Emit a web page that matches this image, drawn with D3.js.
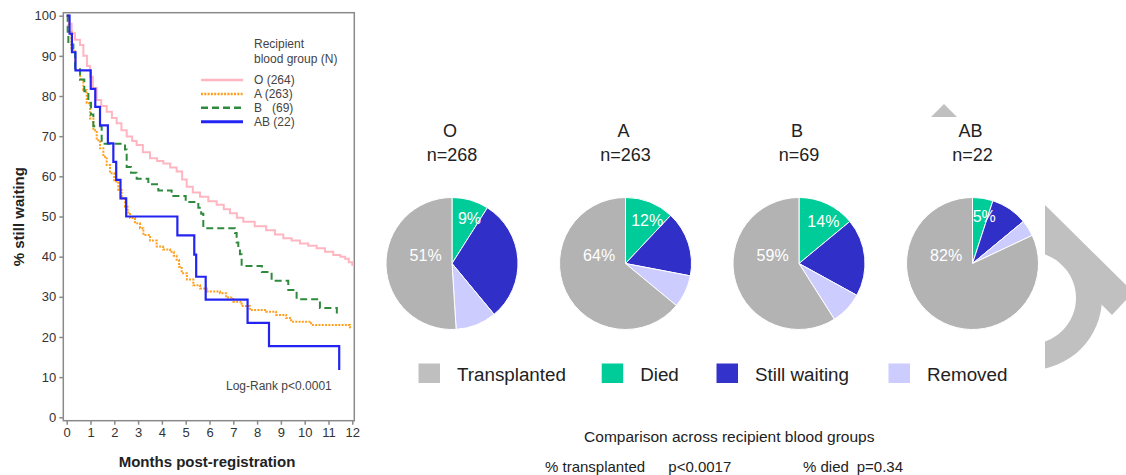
<!DOCTYPE html>
<html>
<head>
<meta charset="utf-8">
<script src="https://cdn.jsdelivr.net/npm/d3@7/dist/d3.min.js"></script>
<style>
  html, body { margin: 0; padding: 0; background: #fff; }
  svg { display: block; font-family: "Liberation Sans", Arial, sans-serif; }
  text { white-space: pre; }
</style>
</head>
<body>
<script>
// ---- Kaplan-Meier: % still waiting by recipient blood group ----
const monthTicks = [0, 1, 2, 3, 4, 5, 6, 7, 8, 9, 10, 11, 12];
const pctTicks = [0, 10, 20, 30, 40, 50, 60, 70, 80, 90, 100];

const kmGroups = ["O", "A", "B", "AB"];
const kmLegend = ["O (264)", "A (263)", "B   (69)", "AB (22)"];

const kmO = [[0,100],[0.1,98],[0.21,95.6],[0.35,94],[0.56,92.7],[0.7,90],[0.85,87.5],[0.98,84.8],
  [1.1,82],[1.26,79],[1.45,77.5],[1.68,76.1],[1.9,74.5],[2.1,73.2],[2.3,71.5],[2.52,69.9],
  [2.75,68.8],[2.94,67.8],[3.2,66],[3.5,64.5],[3.8,63.8],[4.06,63.2],[4.35,62.2],[4.62,61.2],
  [4.85,59.2],[5.04,57.4],[5.3,56],[5.6,54.9],[5.95,53.8],[6.3,52.9],[6.6,51.8],[6.86,50.8],
  [7.15,49.7],[7.42,48.7],[7.9,47.6],[8.38,46.6],[8.75,45.5],[9.1,44.6],[9.45,44],[9.8,43.3],
  [10.15,42.7],[10.5,42.1],[10.85,41.2],[11.2,40.4],[11.5,40],[11.7,39.5],[11.85,38.6],[12,37.7]];

const kmA = [[0,100],[0.08,96],[0.2,91.5],[0.35,86.5],[0.56,84],[0.7,81.5],[0.84,78.2],[0.98,74.4],
  [1.12,71.5],[1.26,69],[1.4,67],[1.54,64.9],[1.68,62.8],[1.82,60.8],[2.0,58.7],[2.17,56.6],
  [2.31,54.5],[2.45,52.4],[2.56,51],[2.66,49.6],[2.87,48.3],[3.08,47.1],[3.22,45.4],[3.5,44],
  [3.78,42.5],[4.05,41.8],[4.34,41.2],[4.5,40.2],[4.62,39.2],[4.72,37.5],[4.83,35.9],[5.05,34.3],
  [5.32,32.9],[5.6,32.1],[5.88,31.3],[6.44,30.9],[6.7,29.8],[7.0,28.8],[7.35,27.7],[7.7,26.7],
  [8.38,26.3],[8.8,25.5],[9.22,24.7],[9.43,23.8],[10.27,23],[11.9,22.4],[12,22.4]];

const kmB = [[0,100],[0.04,96],[0.07,92.8],[0.28,91.3],[0.35,86.9],[0.56,84.1],[0.74,81.2],
  [0.91,78.3],[1.02,75.4],[1.12,72.5],[1.47,68.1],[2.45,66.7],[2.52,62.3],[2.7,60.9],[2.94,59.4],
  [3.43,58],[3.85,56.5],[4.41,55.1],[5.0,53.6],[5.53,52.2],[5.65,50.7],[5.74,47.1],[7.07,45.9],
  [7.14,43.5],[7.21,42],[7.28,40.6],[7.35,37.7],[8.2,36.2],[8.61,34],[9.31,31.7],[9.66,29.4],
  [10.64,27.2],[11.35,25]];

const kmAB = [[0,100],[0.12,95.5],[0.22,90.9],[0.37,86.4],[1.01,81.8],[1.2,77.3],[1.4,72.7],
  [1.73,68.2],[1.96,63.6],[2.08,59.1],[2.26,54.5],[2.5,50],[4.65,45.3],[5.36,40.5],[5.44,35],
  [5.84,29.3],[7.6,23.5],[8.5,17.7],[11.45,11.8]];

// ---- Outcome pies ----
const pieGroups = ["O", "A", "B", "AB"];
const pieN = [268, 263, 69, 22];
const outcomes = ["Transplanted", "Died", "Still waiting", "Removed"];
const pctTransplanted = [51, 64, 59, 82];
const pctDied = [9, 12, 14, 5];
const pctWaiting = [30, 16, 19, 9];
const pctRemoved = [10, 8, 8, 4];

const W = 1126, H = 475;
const svg = d3.select("body").append("svg").attr("width", W).attr("height", H);
svg.append("rect").attr("width", W).attr("height", H).attr("fill", "#fff");

// ---- background arrow ornament (right edge) ----
const deco = svg.append("g").attr("fill", "#c0c0c0");
deco.append("path").attr("d", "M944,104 L931,117 L957,117 Z");
svg.append("clipPath").attr("id", "rightEdge")
  .append("rect").attr("x", 1045).attr("y", 0).attr("width", 100).attr("height", H);
const decoR = deco.append("g").attr("clip-path", "url(#rightEdge)");
decoR.append("path").attr("d", "M1045,205 L1126,285 L1126,300 L1112,315 L1045,248 Z");
decoR.append("path")
  .attr("transform", "translate(1030,298)")
  .attr("d", d3.arc()({innerRadius: 46, outerRadius: 72, startAngle: 0, endAngle: Math.PI}));

// ---- KM panel ----
const x = d3.scaleLinear().domain([0, 12]).range([66.7, 352.3]);
const y = d3.scaleLinear().domain([0, 100]).range([417.3, 15.7]);
const frame = {l: 63.3, t: 12.7, r: 354.3, b: 420.7};

svg.append("rect")
  .attr("x", frame.l).attr("y", frame.t)
  .attr("width", frame.r - frame.l).attr("height", frame.b - frame.t)
  .attr("fill", "none").attr("stroke", "#8a8a8a").attr("stroke-width", 1.5);

const yAxis = svg.append("g").attr("transform", `translate(${frame.l},0)`)
  .call(d3.axisLeft(y).tickValues(pctTicks).tickSize(4).tickPadding(3));
const xAxis = svg.append("g").attr("transform", `translate(0,${frame.b})`)
  .call(d3.axisBottom(x).tickValues(monthTicks).tickSize(4).tickPadding(3));
[xAxis, yAxis].forEach(a => {
  a.select(".domain").remove();
  a.selectAll(".tick line").attr("stroke", "#8a8a8a").attr("stroke-width", 1.5);
  a.selectAll(".tick text").attr("fill", "#333").attr("font-size", 13)
    .attr("font-family", "Liberation Sans, Arial, sans-serif");
});

svg.append("text")
  .attr("transform", "translate(24,216.7) rotate(-90)")
  .attr("text-anchor", "middle").attr("font-weight", "bold").attr("font-size", 15)
  .attr("fill", "#222").text("% still waiting");
svg.append("text")
  .attr("x", 207).attr("y", 467)
  .attr("text-anchor", "middle").attr("font-weight", "bold").attr("font-size", 15)
  .attr("fill", "#222").text("Months post-registration");

const kmStyles = [
  {data: kmO, color: "#ffb6c1", width: 2, dash: null},
  {data: kmA, color: "#ff9f1c", width: 2, dash: "2,1.3"},
  {data: kmB, color: "#2e8b3e", width: 2, dash: "7,4"},
  {data: kmAB, color: "#2424f2", width: 2.2, dash: null}
];
const line = d3.line().curve(d3.curveStepAfter).x(d => x(d[0])).y(d => y(d[1]));
kmStyles.forEach(s => {
  svg.append("path").datum(s.data)
    .attr("d", line).attr("fill", "none")
    .attr("stroke", s.color).attr("stroke-width", s.width)
    .attr("stroke-dasharray", s.dash);
});

// KM legend
const kmLeg = svg.append("g").attr("font-size", 12).attr("fill", "#444");
kmLeg.append("text").attr("x", 254).attr("y", 48).text("Recipient");
kmLeg.append("text").attr("x", 254).attr("y", 63).text("blood group (N)");
kmLegend.forEach((lab, i) => {
  const yy = 80 + i * 13.9;
  const s = kmStyles[i];
  kmLeg.append("line").attr("x1", 201).attr("x2", 243).attr("y1", yy).attr("y2", yy)
    .attr("stroke", s.color).attr("stroke-width", i === 3 ? 3 : 2.5)
    .attr("stroke-dasharray", s.dash);
  kmLeg.append("text").attr("x", 254).attr("y", yy + 4.2).text(lab);
});
svg.append("text").attr("x", 226).attr("y", 390).attr("font-size", 12)
  .attr("fill", "#444").text("Log-Rank p<0.0001");

// ---- pies ----
const pieColors = {"Transplanted": "#b3b3b3", "Died": "#00cc99", "Still waiting": "#3030c8", "Removed": "#ccccff"};
const legendColors = {"Transplanted": "#bfbfbf", "Died": "#00cc99", "Still waiting": "#3333cc", "Removed": "#ccccff"};
const pieX = d3.scalePoint().domain(pieGroups).range([452, 972.5]);
const pieCY = 263.5, pieR = 66;
const pie = d3.pie().sort(null).value(d => d.value);
const arc = d3.arc().innerRadius(0).outerRadius(pieR);

pieGroups.forEach((g, i) => {
  const cx = pieX(g);
  const slices = [
    {key: "Died", value: pctDied[i]},
    {key: "Still waiting", value: pctWaiting[i]},
    {key: "Removed", value: pctRemoved[i]},
    {key: "Transplanted", value: pctTransplanted[i]}
  ];
  const gp = svg.append("g").attr("transform", `translate(${cx},${pieCY})`);
  const arcs = pie(slices);
  gp.selectAll("path").data(arcs).join("path")
    .attr("d", arc).attr("fill", d => pieColors[d.data.key])
    .attr("stroke", "#fff").attr("stroke-width", 1);

  // labels for died and transplanted shares
  const died = arcs[0];
  const mid = (died.startAngle + died.endAngle) / 2 + 0.09;
  const lr = pieR * 0.73;
  gp.append("text")
    .attr("x", Math.sin(mid) * lr).attr("y", -Math.cos(mid) * lr + 5.5)
    .attr("text-anchor", "middle").attr("font-size", 16).attr("fill", "#fff")
    .text(pctDied[i] + "%");
  gp.append("text")
    .attr("x", -pieR * 0.4).attr("y", -3)
    .attr("text-anchor", "middle").attr("font-size", 16).attr("fill", "#fff")
    .text(pctTransplanted[i] + "%");

  svg.append("text").attr("x", cx - 2).attr("y", 137.3)
    .attr("text-anchor", "middle").attr("font-size", 18).attr("fill", "#222").text(g);
  svg.append("text").attr("x", cx).attr("y", 160.7)
    .attr("text-anchor", "middle").attr("font-size", 18).attr("fill", "#222").text("n=" + pieN[i]);
});

// outcome legend
const legX = [418.5, 601.7, 716.5, 888.5];
outcomes.forEach((o, i) => {
  svg.append("rect").attr("x", legX[i]).attr("y", 363.5).attr("width", 21.5).attr("height", 19.5)
    .attr("fill", legendColors[o]);
  svg.append("text").attr("x", legX[i] + 38.5).attr("y", 381)
    .attr("font-size", 18.8).attr("fill", "#222").text(o);
});

// group comparison
svg.append("text").attr("x", 729.3).attr("y", 442.3).attr("text-anchor", "middle")
  .attr("font-size", 15.5).attr("fill", "#222").text("Comparison across recipient blood groups");
const stat = svg.append("g").attr("font-size", 15).attr("fill", "#222");
stat.append("text").attr("x", 545).attr("y", 471.5).text("% transplanted");
stat.append("text").attr("x", 668.3).attr("y", 471.5).text("p<0.0017");
stat.append("text").attr("x", 803).attr("y", 471.5).text("% died");
stat.append("text").attr("x", 856.7).attr("y", 471.5).text("p=0.34");
</script>
</body>
</html>
